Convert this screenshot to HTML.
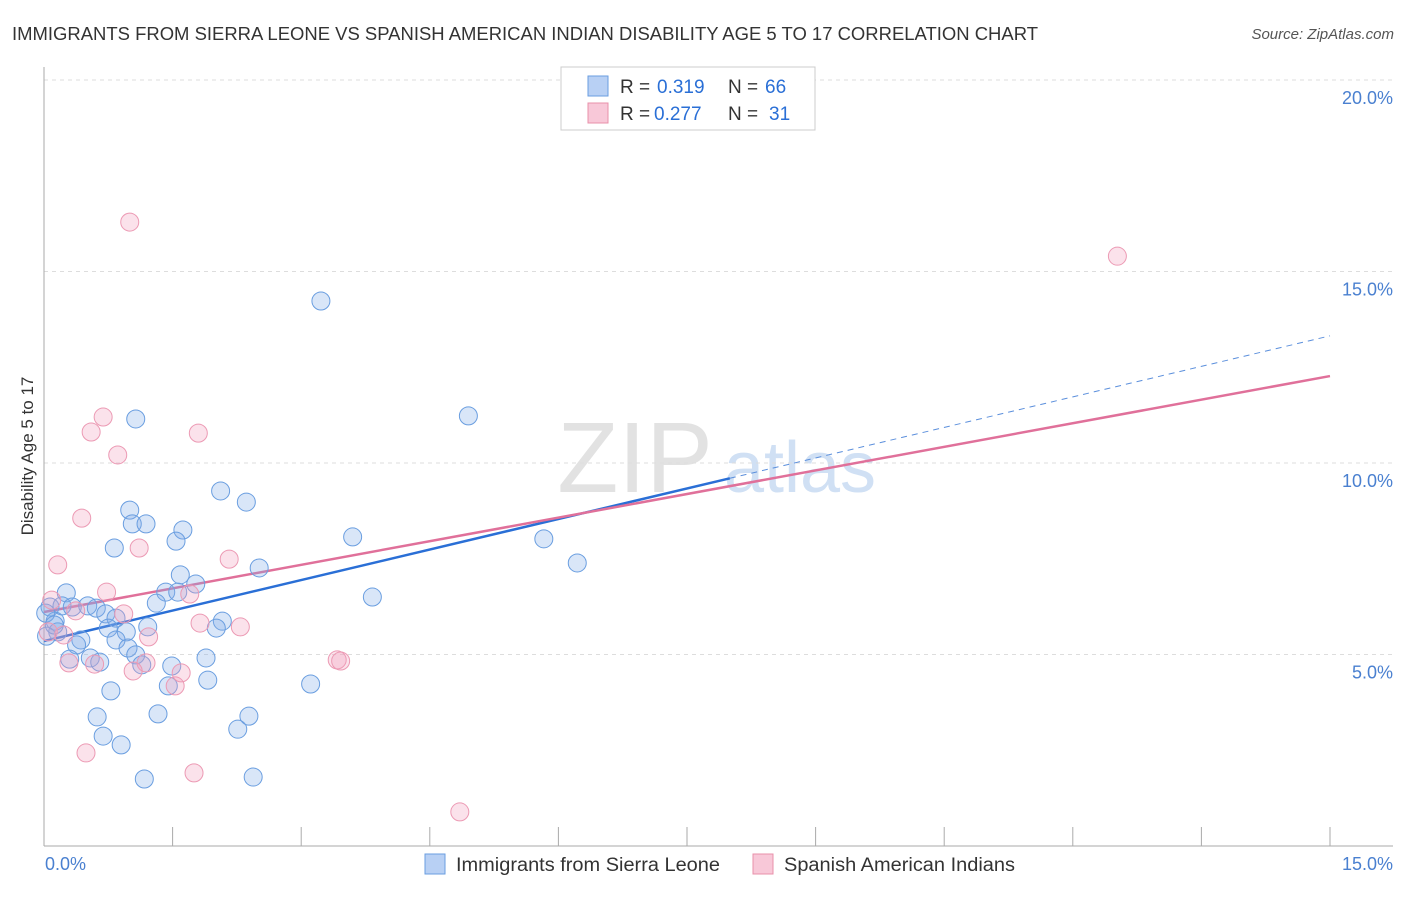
<!DOCTYPE html>
<html><head><meta charset="utf-8"><style>
body{margin:0;background:#fff;font-family:"Liberation Sans",sans-serif;}
svg text{font-family:"Liberation Sans",sans-serif;}
</style></head><body>
<svg id="chart" width="1406" height="892">
<text x="12" y="40" font-size="18" fill="#333" textLength="1026" lengthAdjust="spacingAndGlyphs">IMMIGRANTS FROM SIERRA LEONE VS SPANISH AMERICAN INDIAN DISABILITY AGE 5 TO 17 CORRELATION CHART</text>
<text x="1394" y="39" font-size="15" fill="#555" font-style="italic" text-anchor="end">Source: ZipAtlas.com</text>
<text transform="translate(33,456) rotate(-90)" font-size="17" fill="#333" text-anchor="middle">Disability Age 5 to 17</text>
<g><text x="635" y="492" font-size="100" fill="#e2e2e2" font-family="Liberation Serif" text-anchor="middle">ZIP</text><text x="800" y="492" font-size="72" fill="#d0e0f4" text-anchor="middle">atlas</text></g>
<g id="grid"></g><g id="axes"></g><g id="lines"></g><g id="pts"></g>
<g>
<rect x="561" y="67" width="254" height="63" fill="#fff" stroke="#ccc"/>
<rect x="588" y="76" width="20" height="20" fill="#b8d0f4" stroke="#6a9ee0"/>
<rect x="588" y="103" width="20" height="20" fill="#f8c8d8" stroke="#e890aa"/>
<text x="620" y="93" font-size="19" fill="#333">R =</text><text x="657" y="93" font-size="19" fill="#2a6fd6">0.319</text>
<text x="728" y="93" font-size="19" fill="#333">N =</text><text x="765" y="93" font-size="19" fill="#2a6fd6">66</text>
<text x="620" y="120" font-size="19" fill="#333">R =</text><text x="654" y="120" font-size="19" fill="#2a6fd6">0.277</text>
<text x="728" y="120" font-size="19" fill="#333">N =</text><text x="769" y="120" font-size="19" fill="#2a6fd6">31</text>
</g>
<g>
<rect x="425" y="854" width="20" height="20" fill="#b8d0f4" stroke="#6a9ee0"/>
<text x="456" y="871" font-size="19" fill="#333" textLength="264" lengthAdjust="spacingAndGlyphs">Immigrants from Sierra Leone</text>
<rect x="753" y="854" width="20" height="20" fill="#f8c8d8" stroke="#e890aa"/>
<text x="784" y="871" font-size="19" fill="#333" textLength="231" lengthAdjust="spacingAndGlyphs">Spanish American Indians</text>
</g>
<text x="45" y="870" font-size="18" fill="#4a80d0">0.0%</text>
<text x="1393" y="870" font-size="18" fill="#4a80d0" text-anchor="end">15.0%</text>
</svg>
<script>
const yTicks=[5,10,15,20];
const yTickLabels=["5.0%","10.0%","15.0%","20.0%"];
const blueX=[3.23,4.95,1.07,2.06,2.36,1.00,1.03,1.19,1.62,1.54,3.60,0.82,5.83,6.22,2.51,1.59,1.77,0.26,1.42,1.56,3.83,1.31,0.07,0.21,0.33,0.51,0.61,0.72,0.84,2.08,1.21,0.75,0.96,2.01,0.13,0.16,0.43,0.38,0.84,0.98,1.07,0.54,0.30,0.65,1.14,1.49,1.89,0.78,1.45,1.91,3.11,0.62,1.33,2.39,2.26,0.69,0.90,1.17,2.44,0.03,0.02,0.12];
const blueY=[14.23,11.23,11.15,9.27,8.98,8.77,8.41,8.41,8.25,7.96,8.07,7.78,8.02,7.39,7.26,7.08,6.84,6.61,6.63,6.63,6.50,6.34,6.24,6.27,6.24,6.27,6.21,6.06,5.95,5.87,5.72,5.69,5.59,5.69,5.87,5.59,5.38,5.25,5.38,5.17,4.99,4.91,4.88,4.80,4.73,4.70,4.91,4.05,4.18,4.33,4.23,3.37,3.45,3.39,3.05,2.87,2.64,1.75,1.80,5.48,6.08,5.77];
const pinkX=[1.00,12.52,0.69,0.55,1.80,0.86,0.44,1.11,0.16,2.16,0.73,1.70,0.93,0.37,1.82,2.29,1.22,0.23,0.29,0.59,1.19,1.04,1.53,1.60,3.42,3.46,0.49,1.75,4.85,0.05,0.09];
const pinkY=[16.29,15.40,11.20,10.81,10.78,10.21,8.56,7.78,7.34,7.49,6.63,6.58,6.06,6.14,5.82,5.72,5.46,5.51,4.78,4.75,4.78,4.57,4.18,4.52,4.86,4.83,2.43,1.91,0.89,5.59,6.42];
const blueTrend=[5.35,13.32];
const pinkTrend=[6.11,12.27];
const blueSolidEnd=8.0;
const NS="http://www.w3.org/2000/svg";
const sx=v=>44+v/15*1286;
const sy=v=>846-v*38.3;
function mk(tag,attrs,parent){const e=document.createElementNS(NS,tag);for(const k in attrs)e.setAttribute(k,attrs[k]);parent.appendChild(e);return e;}
const grid=document.getElementById('grid'),axes=document.getElementById('axes'),lines=document.getElementById('lines'),pts=document.getElementById('pts');
yTicks.forEach((t,i)=>{
 const l=mk('line',{x1:44,x2:1393,y1:sy(t),y2:sy(t),stroke:'#ddd','stroke-dasharray':'4,4'},grid);
 
 
 const tx=mk('text',{x:1393,y:sy(t)+24,'font-size':18,fill:'#4a80d0','text-anchor':'end'},grid);
 tx.textContent=yTickLabels[i];
 
 
});
const ya=mk('line',{x1:44,x2:44,y1:67,y2:846,stroke:'#aaa'},axes);


const xa=mk('line',{x1:44,x2:1393,y1:846,y2:846,stroke:'#aaa'},axes);


for(let i=0;i<=10;i++){const v=i*1.5;const t=mk('line',{x1:sx(v),x2:sx(v),y1:827,y2:846,stroke:'#aaa'},axes);
 
 }
function ty(tr,x){return tr[0]+(tr[1]-tr[0])*x/15;}
function drawPts(xs,ys,fill,stroke,name){xs.forEach((x,i)=>{const c=mk('circle',{cx:sx(x),cy:sy(ys[i]),r:9,fill:fill,stroke:stroke,'stroke-width':1},pts);
 
 });}
drawPts(blueX,blueY,'rgba(130,172,232,0.3)','#6a9ee0','sierra-leone-point');
drawPts(pinkX,pinkY,'rgba(242,160,188,0.3)','#ec9ab4','spanish-american-indian-point');
const b1=mk('line',{x1:sx(0),y1:sy(ty(blueTrend,0)),x2:sx(blueSolidEnd),y2:sy(ty(blueTrend,blueSolidEnd)),stroke:'#2a6fd6','stroke-width':2.5},lines);


const b2=mk('line',{x1:sx(blueSolidEnd),y1:sy(ty(blueTrend,blueSolidEnd)),x2:sx(15),y2:sy(ty(blueTrend,15)),stroke:'#5b8fdc','stroke-width':1,'stroke-dasharray':'6,5'},lines);


const p1=mk('line',{x1:sx(0),y1:sy(ty(pinkTrend,0)),x2:sx(15),y2:sy(ty(pinkTrend,15)),stroke:'#e0709a','stroke-width':2.5},lines);


</script>
</body></html>
